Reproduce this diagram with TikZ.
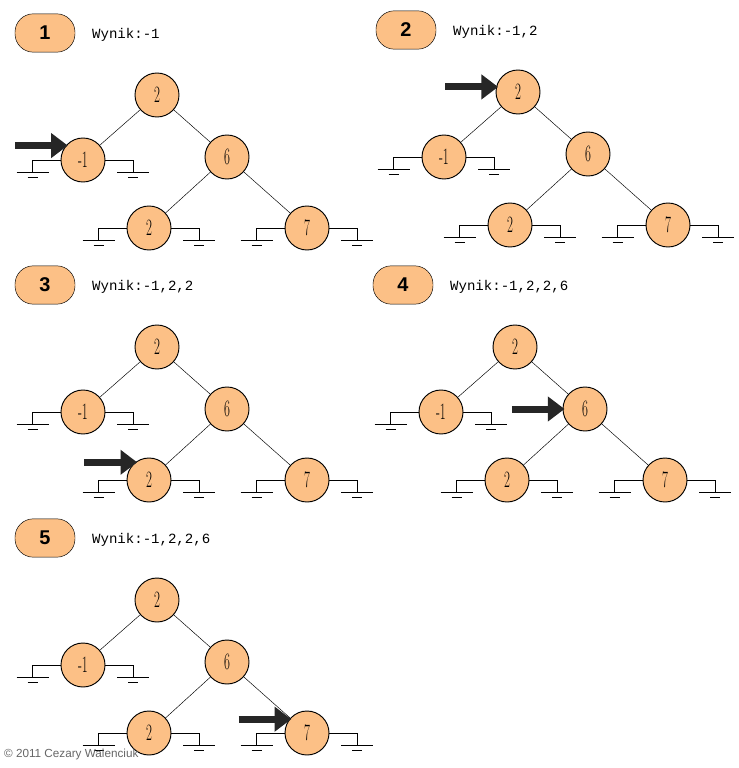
\documentclass[tikz,border=0pt]{standalone}
\usepackage{fontspec}
\newfontfamily\monofont{Liberation Mono}
\newfontfamily\sansfont{Liberation Sans}
\usetikzlibrary{arrows.meta}
\definecolor{peach}{RGB}{252,192,134}

\newcommand{\bsttree}[4]{% prefix, x, y, result text
  \begin{scope}[shift={(#2,#3)}]
    \node (#1b) [badge] at (45,33) {#1};
    \node (#1w) [anchor=west,font=\monofont\fontsize{12}{12}\selectfont] at (88,35) {Wynik:#4};
    \node (#1r) [key] at (157,95) {\digit{2}};
    \node (#1l) [key] at (83,160) {\digit{-1}};
    \node (#1s) [key] at (227,157) {\digit{6}};
    \node (#1sl) [key] at (149,228) {\digit{2}};
    \node (#1sr) [key] at (307,228) {\digit{7}};
    \draw (#1r) -- (#1l);
    \draw (#1r) -- (#1s);
    \draw (#1s) -- (#1sl);
    \draw (#1s) -- (#1sr);
    \foreach \n in {#1l,#1sl,#1sr} {
      \draw (\n.west) -| ++(-28,12) pic{gnd};
      \draw (\n.east) -| ++(28,12) pic{gnd};
    }
  \end{scope}}
\newcommand{\digit}[1]{\scalebox{0.55}[1]{\fontsize{20}{20}\selectfont #1}}
\newcommand{\pointer}[2]{\coordinate (tip) at ([shift={(#2:2)}]#1);
  \draw[ptr] ([xshift=-45]tip) -- (tip);}

\begin{document}
\begin{tikzpicture}[x=0.03cm,y=-0.03cm]
  \tikzset{
    key/.style={circle, draw=black, thick, fill=peach, minimum size=1.32cm, inner sep=0pt},
    badge/.style={rectangle, rounded corners=0.55cm, draw=black, thin, fill=peach, minimum width=1.8cm, minimum height=1.15cm, font=\sansfont\bfseries\fontsize{17}{17}\selectfont},
    ptr/.style={line width=0.21cm, draw=black!85, -{Triangle[length=0.5cm,width=0.72cm]}},
    gnd/.pic={\draw (-16,0) -- (16,0); \draw (-5,5) -- (5,5);}
  }
  \useasboundingbox (0,0) rectangle (738,768);

  \bsttree{1}{0}{0}{-1}
  \bsttree{2}{361}{-3}{-1,2}
  \bsttree{3}{0}{252}{-1,2,2}
  \bsttree{4}{358}{252}{-1,2,2,6}
  \bsttree{5}{0}{505}{-1,2,2,6}

  \pointer{1l.140}{0}
  \pointer{2r.167}{0}
  \pointer{3sl.128}{0}
  \pointer{4s.180}{0}
  \pointer{5sr.142}{0}

  \node (copy) [anchor=west, text=black!60, font=\sansfont\fontsize{10}{10}\selectfont] at (0,754) {© 2011 Cezary Walenciuk};
\end{tikzpicture}
\end{document}
